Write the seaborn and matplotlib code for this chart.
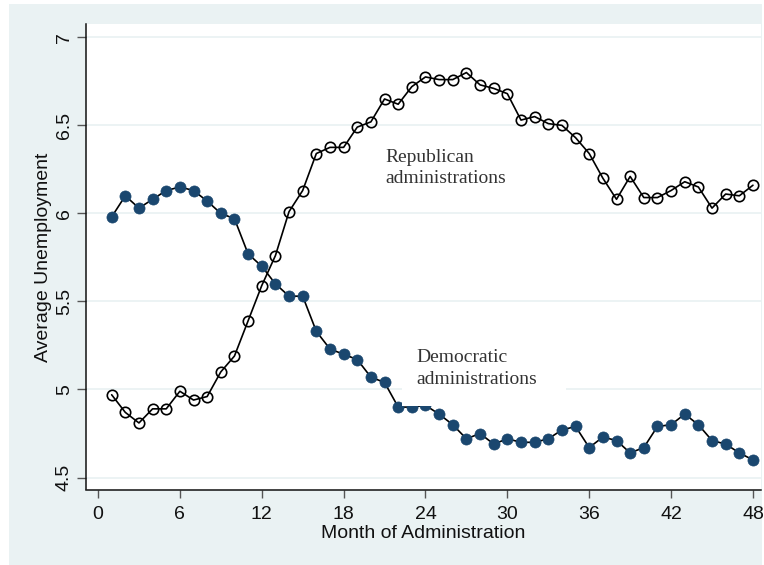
import matplotlib
matplotlib.use("Agg")
import matplotlib.pyplot as plt
from matplotlib.patches import Rectangle
import seaborn as sns
import pandas as pd

months = list(range(1, 49))

democratic = [5.98, 6.10, 6.03, 6.08, 6.13, 6.15, 6.13, 6.07, 6.00, 5.97,
              5.77, 5.70, 5.60, 5.53, 5.53, 5.33, 5.23, 5.20, 5.17, 5.07,
              5.04, 4.90, 4.90, 4.91, 4.86, 4.80, 4.72, 4.75, 4.69, 4.72,
              4.70, 4.70, 4.72, 4.77, 4.79, 4.67, 4.73, 4.71, 4.64, 4.67,
              4.79, 4.80, 4.86, 4.80, 4.71, 4.69, 4.64, 4.60]

republican = [4.97, 4.87, 4.81, 4.89, 4.89, 4.99, 4.94, 4.96, 5.10, 5.19,
              5.39, 5.59, 5.76, 6.01, 6.13, 6.34, 6.375, 6.375, 6.49, 6.52,
              6.65, 6.62, 6.72, 6.775, 6.76, 6.76, 6.80, 6.73, 6.71, 6.68,
              6.53, 6.55, 6.51, 6.50, 6.43, 6.34, 6.20, 6.08, 6.21, 6.09,
              6.09, 6.13, 6.18, 6.15, 6.03, 6.11, 6.10, 6.16]

x_ticks = [0, 6, 12, 18, 24, 30, 36, 42, 48]
y_ticks = [4.5, 5, 5.5, 6, 6.5, 7]
y_tick_labels = ["4.5", "5", "5.5", "6", "6.5", "7"]

df = pd.DataFrame({
    "month": months * 2,
    "unemp": democratic + republican,
    "party": ["Democratic"] * 48 + ["Republican"] * 48,
})

sns.set_style("white")
plt.rcParams["font.family"] = ["Liberation Sans", "DejaVu Sans"]

PANEL = "#EAF2F3"
NAVY = "#1a476f"

fig = plt.figure(figsize=(7.64, 5.65), dpi=100)
fig.patch.set_facecolor("white")
fig.patches.append(Rectangle((9 / 764, 0), (762 - 9) / 764, 1 - 4 / 565,
                             transform=fig.transFigure, facecolor=PANEL,
                             edgecolor="none", zorder=-10))

ax = fig.add_axes([86 / 764, 1 - 489.5 / 565, (761 - 86) / 764, (489.5 - 24.3) / 565])
ax.set_facecolor("white")

dem = df[df.party == "Democratic"]
rep = df[df.party == "Republican"]

sns.lineplot(data=dem, x="month", y="unemp", ax=ax, color="black", lw=1.2,
             marker="o", markersize=8, markerfacecolor=NAVY, markeredgecolor=NAVY,
             markeredgewidth=0.5, zorder=3)
sns.lineplot(data=rep, x="month", y="unemp", ax=ax, color="black", lw=1.2,
             marker="o", markersize=7.5, markerfacecolor="none", markeredgecolor="black",
             markeredgewidth=1.2, zorder=3)

ax.set_xlim(-0.88, 48.59)
ax.set_ylim(4.432, 7.074)
ax.set_xticks(x_ticks)
ax.set_xticklabels([str(t) for t in x_ticks])
ax.set_yticks(y_ticks)
ax.set_yticklabels(y_tick_labels, rotation=90, va="center")

ax.grid(axis="y", color=PANEL, lw=1.3, zorder=0)
ax.grid(axis="x", visible=False)
ax.set_axisbelow(True)

for s in ["top", "right"]:
    ax.spines[s].set_visible(False)
for s in ["left", "bottom"]:
    ax.spines[s].set_color("#111111")
    ax.spines[s].set_linewidth(1.1)

ax.tick_params(axis="y", which="major", left=True, length=6.5, width=1.0,
               color="#555555", labelsize=14, pad=3, labelcolor="#111111")
ax.tick_params(axis="x", which="major", bottom=True, length=6, width=1.0,
               color="#555555", labelsize=14, pad=6, labelcolor="#111111")

ax.set_xlabel("Month of Administration", fontsize=14, color="#111111", labelpad=1.5)
ax.set_ylabel("Average Unemployment", fontsize=14, color="#111111", labelpad=3)

serif = ["Liberation Serif", "DejaVu Serif"]
ax.text(21.03, 6.257, "Republican\nadministrations", fontsize=14, family=serif,
        color="#333333", ha="left", va="center", linespacing=1.35, zorder=5)

ax.add_patch(Rectangle((22.28, 4.908), 34.30 - 22.28, 5.282 - 4.908,
                       facecolor="white", edgecolor="none", zorder=4))
ax.text(23.3, 5.118, "Democratic\nadministrations", fontsize=14, family=serif,
        color="#333333", ha="left", va="center", linespacing=1.35, zorder=5)

legend = ax.get_legend()
if legend is not None:
    legend.remove()

fig.savefig("out.png", dpi=100, facecolor=fig.get_facecolor())
